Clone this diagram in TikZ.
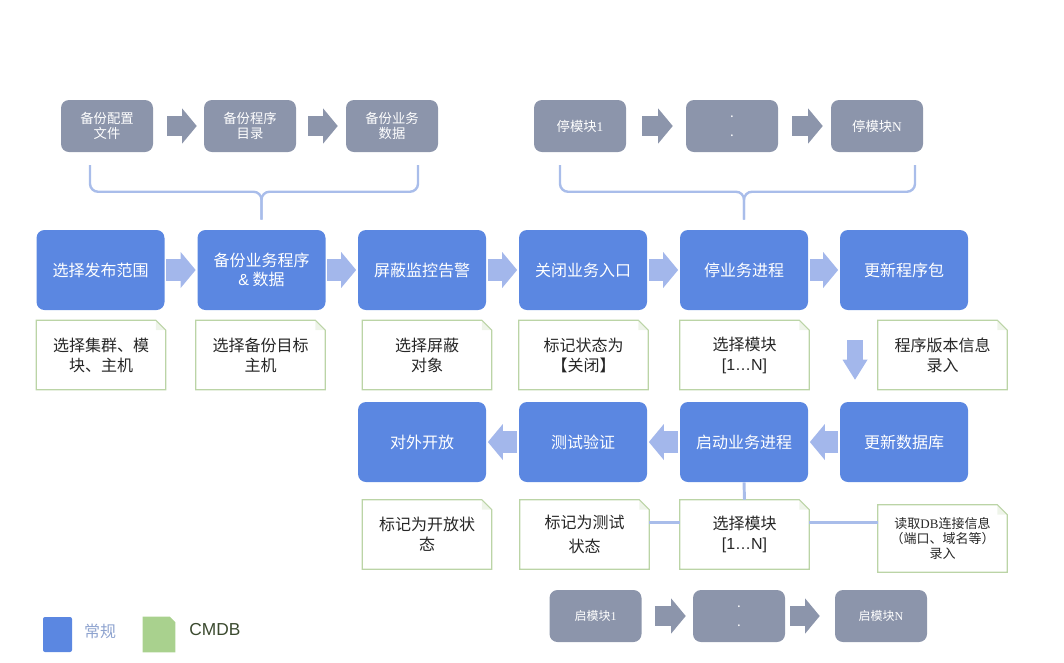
\documentclass[tikz,border=0pt]{standalone}
\usepackage{fontspec}
\setmainfont{Noto Sans CJK SC}
\newfontfamily\numfont{Liberation Serif}
\newfontfamily\arialfont{Liberation Sans}
\usetikzlibrary{arrows.meta}
\definecolor{boxblue}{HTML}{5B87E1}
\definecolor{boxgrey}{HTML}{8C95AB}
\definecolor{arrowblue}{HTML}{A3B7EB}
\definecolor{braceblue}{HTML}{A9BDEA}
\definecolor{notegreen}{HTML}{BBD4A6}
\definecolor{legendgreen}{HTML}{A9D18E}
\definecolor{legendtext}{HTML}{8EA3CF}
\definecolor{cmdbtext}{HTML}{3B4A2F}

\begin{document}
\begin{tikzpicture}[x=0.75pt,y=-0.75pt,
  greybox/.style={fill=boxgrey,text=white,rounded corners=6pt,minimum width=69pt,minimum height=39pt,
    inner sep=0pt,align=center,font=\fontsize{10}{11.5}\selectfont},
  bluebox/.style={fill=boxblue,text=white,rounded corners=6pt,minimum width=96pt,minimum height=60pt,
    inner sep=0pt,align=center,font=\fontsize{12}{14.5}\selectfont},
  notebox/.style={minimum width=96.75pt,minimum height=51.75pt,inner sep=0pt,align=center,
    text=black!85,font=\fontsize{12}{15}\selectfont},
  greyarrow/.style={draw=boxgrey,line width=14.5pt,-{Triangle[width=26.5pt,length=11pt,line width=0pt]}},
  bluearrow/.style={draw=arrowblue,line width=16.5pt,-{Triangle[width=27pt,length=11.25pt,line width=0pt]}},
  brace/.style={draw=braceblue,line width=1.8pt,rounded corners=6pt},
  link/.style={draw=braceblue,line width=2.2pt}]
  \useasboundingbox(0,0)rectangle(1064,662);
  \node[greybox](g1)at(107,126){备份配置\\文件};
  \node[greybox](g2)at(250,126){备份程序\\目录};
  \node[greybox](g3)at(392,126){备份业务\\数据};
  \node[greybox](s1)at(580,126){停模块{\numfont 1}};
  \node[greybox,font=\fontsize{10}{14}\selectfont](s2)at(732,126){.\\.};
  \node[greybox](s3)at(877,126){停模块{\numfont N}};
  \foreach \a/\b/\s/\e in {g1/g2/10.5/5.25,g2/g3/9/6,s1/s2/12/9.75,s2/s3/10.5/6}
    \draw[greyarrow,shorten <=\s pt,shorten >=\e pt](\a.east)--(\b.west);
  \node[bluebox](b1)at(100.5,270){选择发布范围};
  \node[bluebox](b2)at(261.5,270){备份业务程序\\{\arialfont\&} 数据};
  \node[bluebox](b3)at(422,270){屏蔽监控告警};
  \node[bluebox](b4)at(583,270){关闭业务入口};
  \node[bluebox](b5)at(744,270){停业务进程};
  \node[bluebox](b6)at(904,270){更新程序包};
  \node[bluebox](c1)at(422,442){对外开放};
  \node[bluebox](c2)at(583,442){测试验证};
  \node[bluebox](c3)at(744,442){启动业务进程};
  \node[bluebox](c4)at(904,442){更新数据库};
  \foreach \a/\b in {b1/b2,b2/b3,b3/b4,b4/b5,b5/b6}
    \draw[bluearrow,shorten <=1.2pt,shorten >=1.2pt](\a.east)--(\b.west);
  \foreach \a/\b in {c4/c3,c3/c2,c2/c1}
    \draw[bluearrow,shorten <=1.2pt,shorten >=1.2pt](\a.west)--(\b.east);
  \draw[draw=arrowblue,line width=12pt,-{Triangle[width=18.75pt,length=15pt,line width=0pt]},
    shorten <=22.5pt,shorten >=16.5pt]([xshift=-36.75pt]b6.south)--([xshift=-36.75pt]c4.north);
  \coordinate(brl1)at(90,165);\coordinate(brl2)at(418,165);
  \coordinate(brr1)at(560,165);\coordinate(brr2)at(915,165);
  \draw[brace](brl1)|-([yshift=28.5pt]b2.north)--([yshift=7.5pt]b2.north);
  \draw[brace](brl2)|-([yshift=28.5pt]b2.north)--([yshift=7.5pt]b2.north);
  \draw[brace](brr1)|-([yshift=28.5pt]b5.north)--([yshift=7.5pt]b5.north);
  \draw[brace](brr2)|-([yshift=28.5pt]b5.north)--([yshift=7.5pt]b5.north);
  \node[notebox](n1)at(101,355){选择集群、模\\块、主机};
  \node[notebox](n2)at(260.5,355){选择备份目标\\主机};
  \node[notebox](n3)at(427,355){选择屏蔽\\对象};
  \node[notebox](n4)at(583.5,355){标记状态为\\【关闭】};
  \node[notebox](n5)at(744.5,355){选择模块\\{\arialfont[1…N]}};
  \node[notebox](n6)at(942.5,355){程序版本信息\\录入};
  \node[notebox](m1)at(427,534.5){标记为开放状\\态};
  \node[notebox,font=\fontsize{12}{18}\selectfont](m2)at(584.5,534.5){标记为测试\\状态};
  \node[notebox](m3)at(744.5,534.5){选择模块\\{\arialfont[1…N]}};
  \node[notebox,minimum height=50.25pt,font=\fontsize{9.75}{11.6}\selectfont](m4)at(942.5,538.5)
    {读取{\numfont DB}连接信息\\（端口、域名等）\\录入};
  \foreach \n in {n1,n2,n3,n4,n5,n6,m1,m2,m3,m4}{
    \fill[notegreen!25]([xshift=-7.5pt]\n.north east)--([xshift=-7.5pt,yshift=-7.5pt]\n.north east)
      --([yshift=-7.5pt]\n.north east)--cycle;
    \draw[notegreen,line width=0.8pt](\n.south west)--(\n.north west)--([xshift=-7.5pt]\n.north east)
      --([yshift=-7.5pt]\n.north east)--(\n.south east)--cycle;}
  \draw[link](c3.south)--(m3.north);
  \draw[link]([yshift=9pt]m2.east)--([yshift=9pt]m3.west);
  \draw[link]([yshift=9pt]m3.east)--([yshift=9pt]m3.east-|m4.west);
  \node[greybox,font=\fontsize{9}{11}\selectfont](q1)at(595.5,616){启模块{\numfont 1}};
  \node[greybox,font=\fontsize{10}{14}\selectfont](q2)at(739,616){.\\.};
  \node[greybox,font=\fontsize{9}{11}\selectfont](q3)at(881,616){启模块{\numfont N}};
  \foreach \a/\b/\s/\e in {q1/q2/9.75/5.25,q2/q3/3.75/11.25}
    \draw[greyarrow,shorten <=\s pt,shorten >=\e pt](\a.east)--(\b.west);
  \node[fill=boxblue,rounded corners=1.5pt,minimum width=21.75pt,minimum height=26.25pt,inner sep=0pt]
    (lgblue)at(57.5,634.5){};
  \node[text=legendtext,font=\fontsize{12}{14}\selectfont](lgbluetext)at(100,631){常规};
  \node[minimum width=24pt,minimum height=26.25pt,inner sep=0pt](lggreen)at(159,634.5){};
  \fill[legendgreen](lggreen.south west)--(lggreen.north west)--([xshift=-4pt]lggreen.north east)
    --([yshift=-4pt]lggreen.north east)--(lggreen.south east)--cycle;
  \node[text=cmdbtext,font=\arialfont\fontsize{13}{15}\selectfont](lggreentext)at(215,630){CMDB};
\end{tikzpicture}
\end{document}
